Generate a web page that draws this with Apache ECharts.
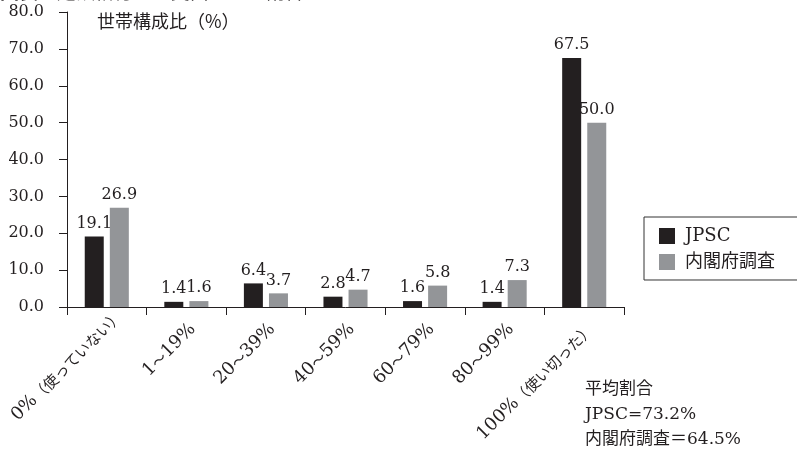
<!DOCTYPE html>
<html><head><meta charset="utf-8">
<script src="https://cdn.jsdelivr.net/npm/echarts@6/dist/echarts.min.js"></script>
<style>html,body{margin:0;padding:0;background:#fff}#c{width:797px;height:456px}</style>
</head><body><div id="c"></div>
<script>
const categories = ['0%（使っていない）','1〜19%','20〜39%','40〜59%','60〜79%','80〜99%','100%（使い切った）'];
const jpsc = [19.1, 1.4, 6.4, 2.8, 1.6, 1.4, 67.5];
const cabinet = [26.9, 1.6, 3.7, 4.7, 5.8, 7.3, 50.0];
const seriesNames = ['JPSC', '内閣府調査'];
const yTicks = [0, 10, 20, 30, 40, 50, 60, 70, 80];
const noteLines = ['平均割合', 'JPSC=73.2%', '内閣府調査＝64.5%'];
const titleBold = '図表 5';
const titleRest = '定額給付金が支出された割合';

const FONT = '"DejaVu Serif", "Noto Sans CJK JP", serif';
const CJK = '"Noto Sans CJK JP", sans-serif';
const INK = '#231f20';
const chart = echarts.init(document.getElementById('c'));
const lbl = {show: true, position: 'top', distance: 5, color: INK, fontFamily: FONT, fontSize: 16, formatter: p => p.value.toFixed(1)};
const catData = categories.map((c, i) => i === 0 ? {value: c, textStyle: {padding: [8, -14, 0, 0]}} : c);
chart.setOption({
  animation: false,
  textStyle: {fontFamily: FONT, color: INK},
  grid: {left: 67, right: 173, top: 12, bottom: 149, outerBoundsMode: 'none', containLabel: false},
  legend: {
    orient: 'vertical', left: 644, top: 217,
    padding: [10, 40, 9, 15],
    borderColor: '#333', borderWidth: 1,
    itemWidth: 16, itemHeight: 16, itemGap: 8,
    textStyle: {fontFamily: FONT, fontSize: 18, color: INK, padding: [0, 0, 0, 5]},
    data: seriesNames.map(n => ({name: n, icon: 'rect'}))
  },
  xAxis: {
    type: 'category', data: catData,
    axisLine: {lineStyle: {color: INK, width: 1}},
    axisTick: {show: true, length: 8, lineStyle: {color: INK}},
    axisLabel: {
      rotate: 45, interval: 0, margin: 13, verticalAlign: 'top', fontFamily: FONT, fontSize: 18, color: INK,
      formatter: v => v.replace(/([^\x00-\x7F]+)/g, '{j|$1}'),
      rich: {j: {fontFamily: CJK, fontSize: 15, color: INK}}
    }
  },
  yAxis: {
    type: 'value', min: yTicks[0], max: yTicks[yTicks.length - 1], interval: 10,
    name: '世帯構成比（%）', nameLocation: 'end', nameGap: -18,
    nameTextStyle: {align: 'left', padding: [0, 0, 0, 30], fontFamily: CJK, fontSize: 18, color: INK},
    splitLine: {show: false},
    axisLine: {show: true, lineStyle: {color: INK, width: 1}},
    axisTick: {show: true, length: 8, lineStyle: {color: INK}},
    axisLabel: {margin: 23, fontFamily: FONT, fontSize: 16, color: INK, formatter: v => v.toFixed(1)}
  },
  series: [
    {name: seriesNames[0], type: 'bar', data: jpsc, barWidth: 19, barGap: '32%', itemStyle: {color: INK}, label: lbl},
    {name: seriesNames[1], type: 'bar', data: cabinet, barWidth: 19, itemStyle: {color: '#939598'}, label: lbl}
  ],
  graphic: [
    {type: 'text', left: 0, top: -18, style: {
      text: '{b|' + titleBold + '} {r|' + titleRest + '}',
      rich: {b: {fontFamily: CJK, fontWeight: 'bold', fontSize: 19, fill: INK}, r: {fontFamily: CJK, fontWeight: 'normal', fontSize: 19, fill: INK}},
      fill: INK}},
    ...noteLines.map((t, i) => ({type: 'text', left: 585, top: 381 + i * 25, style: {text: t, fontFamily: FONT, fontSize: 17, fill: INK}}))
  ]
});
</script></body></html>
